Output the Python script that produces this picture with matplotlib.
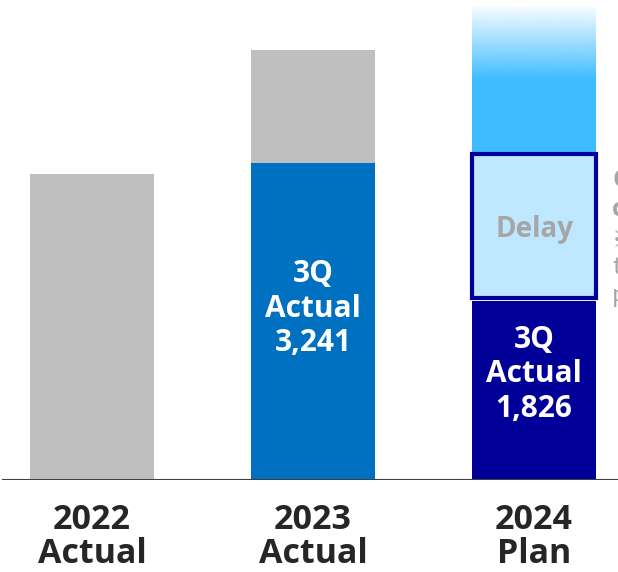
import numpy as np
import matplotlib.pyplot as plt
from matplotlib.patches import Rectangle

years = ['2022\nActual', '2023\nActual', '2024\nPlan']
totals = [3130, 4390, 4830]
actual_3q = [None, 3241, 1826]
delay_top = 3330
fade_start = 4090

gray = '#BFBFBF'
blue = '#0070C0'
navy = '#000099'
sky = '#3DBDFF'
light = '#BDE8FF'

plt.rcParams['font.family'] = ['Open Sans', 'DejaVu Sans']

fig = plt.figure(figsize=(6.18, 5.72), dpi=100)
ax = fig.add_axes([0, 92 / 572, 1, 480 / 572])

x = np.arange(len(years))
w = 0.561

# 2022: full year gray
ax.bar(x[0], totals[0], w, color=gray, zorder=2)
# 2023: gray total with 3Q actual blue
ax.bar(x[1], totals[1], w, color=gray, zorder=2)
ax.bar(x[1], actual_3q[1], w, color=blue, zorder=3)
# 2024: 3Q actual navy, plan sky with fade at top
ax.bar(x[2], actual_3q[2], w, color=navy, zorder=3)
ax.bar(x[2], fade_start - actual_3q[2] - 10, w, bottom=actual_3q[2] + 10, color=sky, zorder=2)

# fade from sky blue to white at the top of the plan bar
alpha = np.linspace(0.05, 1, 200)
img = np.zeros((200, 1, 4))
img[:, 0, 0] = 0x3D / 255
img[:, 0, 1] = 0xBD / 255
img[:, 0, 2] = 1.0
img[:, 0, 3] = alpha
ax.imshow(img, extent=[x[2] - w / 2, x[2] + w / 2, fade_start - 5, totals[2]],
          origin='upper', aspect='auto', zorder=2, interpolation='bilinear')

# delay box
ax.add_patch(Rectangle((x[2] - w / 2 - 0.002, actual_3q[2] + 30), w, delay_top - actual_3q[2] - 30,
                       facecolor=light, edgecolor=navy, linewidth=3, zorder=4))
ax.text(x[2], 2560, 'Delay', color='#A6A6A6', fontsize=20,
        fontweight='bold', ha='center', va='center', zorder=5)

# labels inside bars
ax.text(x[1], 1750, '3Q\nActual\n{:,}'.format(actual_3q[1]), color='white', fontsize=21.5,
        fontweight='bold', ha='center', va='center', linespacing=1.2, zorder=5)
ax.text(x[2], 1080, '3Q\nActual\n{:,}'.format(actual_3q[2]), color='white', fontsize=21.5,
        fontweight='bold', ha='center', va='center', linespacing=1.2, zorder=5)

# baseline
ax.axhline(0, xmin=3 / 618, xmax=1, color='#404040', linewidth=1.5, zorder=6)

ax.set_xlim(-92 / 221, 526 / 221)
ax.set_ylim(0, 480 * 10.22)
ax.axis('off')

for i, lab in enumerate(years):
    ax.text(x[i], -240, lab, color='#262626', fontsize=24.5, fontweight='bold',
            ha='center', va='top', linespacing=1.0, clip_on=False)

# note text cut off at right edge
fig.text(612 / 618, 1 - 195 / 572, 'Cost\ncontrol', color='#A6A6A6', fontsize=18,
         fontweight='bold', va='center', linespacing=1.2)
fig.text(612 / 618, 1 - 268 / 572, '\u203b\nto\nplan', color='#A6A6A6', fontsize=17,
         va='center', linespacing=1.25, family=['Noto Sans CJK JP', 'DejaVu Sans'])

fig.savefig('out.png', dpi=100)
